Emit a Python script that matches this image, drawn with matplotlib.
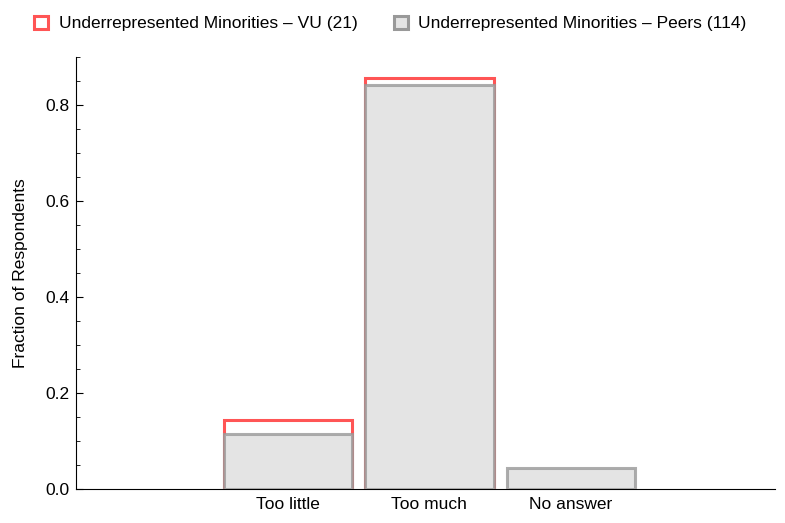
import matplotlib
matplotlib.use('Agg')
import matplotlib.pyplot as plt
from matplotlib.patches import Patch
from matplotlib.ticker import MultipleLocator

categories = ['Too little', 'Too much', 'No answer']
vu_label = 'Underrepresented Minorities \u2013 VU (21)'
peers_label = 'Underrepresented Minorities \u2013 Peers (114)'
vu_values = [3 / 21, 18 / 21, 0.0]
peers_values = [13 / 114, 96 / 114, 5 / 114]

RED = '#ff5555'
GRAY_EDGE = (0.6, 0.6, 0.6, 0.8)
GRAY_FILL = '#e4e4e4'

plt.rcParams['font.family'] = ['Liberation Sans', 'DejaVu Sans']

fig = plt.figure(figsize=(7.85, 5.23), dpi=100)
ax = fig.add_axes([0.0968, 0.065, 0.890, 0.826])

x = [1, 2, 3]
width = 0.91
ax.bar(x, vu_values, width=width, facecolor='white', edgecolor=RED, linewidth=2.2, zorder=2)
ax.bar(x, peers_values, width=width, facecolor=GRAY_FILL, edgecolor=GRAY_EDGE, linewidth=2.2, zorder=3)

ax.set_xlim(-0.498, 4.44)
ax.set_ylim(0, 0.9)
ax.set_xticks(x)
ax.set_xticklabels(categories, fontsize=12.5)
ax.yaxis.set_major_locator(MultipleLocator(0.2))
ax.yaxis.set_minor_locator(MultipleLocator(0.05))
ax.yaxis.set_major_formatter(matplotlib.ticker.FormatStrFormatter('%.1f'))
ax.tick_params(axis='y', labelsize=12.5, pad=5)
ax.tick_params(axis='x', pad=6)
ax.tick_params(which='major', direction='in', length=5, width=0.8)
ax.tick_params(which='minor', direction='in', length=3, width=0.6)
ax.set_ylabel('Fraction of Respondents', fontsize=12.5, labelpad=12)

for side in ['top', 'right']:
    ax.spines[side].set_visible(False)
ax.spines['left'].set_linewidth(0.8)
ax.spines['bottom'].set_linewidth(0.8)

handles = [
    Patch(facecolor='white', edgecolor=RED, linewidth=2.2, label=vu_label),
    Patch(facecolor=GRAY_FILL, edgecolor=(0.6, 0.6, 0.6), linewidth=2.2, label=peers_label),
]
fig.legend(handles=handles, loc='upper left', bbox_to_anchor=(0.024, 1.0), ncol=2,
           frameon=False, fontsize=12.5, handlelength=0.8, handleheight=0.8,
           handletextpad=0.6, columnspacing=2.1)

fig.savefig('out.png', dpi=100)
